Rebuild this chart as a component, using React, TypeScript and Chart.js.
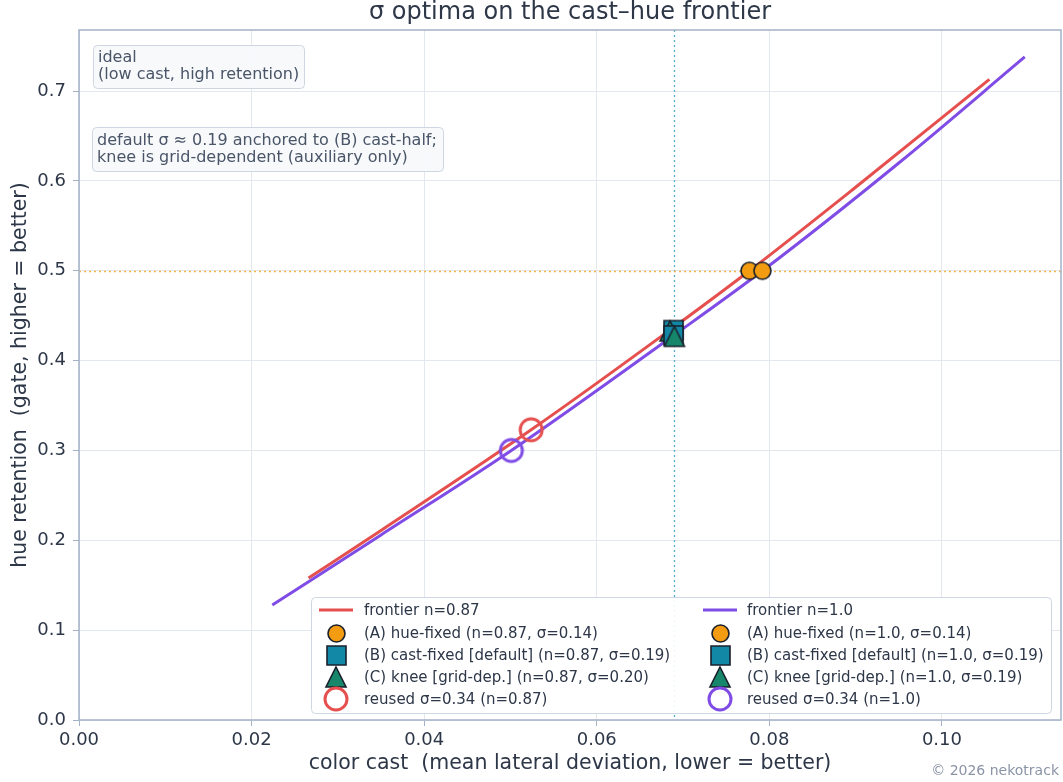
import React, { useEffect, useRef } from 'react';
import { Chart, registerables } from 'chart.js';

Chart.register(...registerables);

// ---------- data ----------
const RED_X = [0.0266, 0.035, 0.0524, 0.0689, 0.0777, 0.09, 0.1055];
const RED_Y = [0.158, 0.211, 0.323, 0.437, 0.5, 0.593, 0.713];
const PURPLE_X = [0.0224, 0.035, 0.0501, 0.0689, 0.0792, 0.095, 0.1096];
const PURPLE_Y = [0.128, 0.206, 0.3, 0.428, 0.5, 0.62, 0.738];

// marker order: (A) hue-fixed, (B) cast-fixed, (C) knee, reused
const MARK_X_087 = [0.0777, 0.0689, 0.0685, 0.0524];
const MARK_Y_087 = [0.5, 0.434, 0.433, 0.323];
const MARK_X_100 = [0.0792, 0.0689, 0.069, 0.0501];
const MARK_Y_100 = [0.5, 0.428, 0.427, 0.3];

const CAST_REF = 0.0689;
const GATE_REF = 0.5;

const X_TICKS = [0, 0.02, 0.04, 0.06, 0.08, 0.1];
const Y_TICKS = [0, 0.1, 0.2, 0.3, 0.4, 0.5, 0.6, 0.7];

const LABELS_087 = [
  'frontier n=0.87',
  '(A) hue-fixed (n=0.87, σ=0.14)',
  '(B) cast-fixed [default] (n=0.87, σ=0.19)',
  '(C) knee [grid-dep.] (n=0.87, σ=0.20)',
  'reused σ=0.34 (n=0.87)',
];
const LABELS_100 = [
  'frontier n=1.0',
  '(A) hue-fixed (n=1.0, σ=0.14)',
  '(B) cast-fixed [default] (n=1.0, σ=0.19)',
  '(C) knee [grid-dep.] (n=1.0, σ=0.19)',
  'reused σ=0.34 (n=1.0)',
];

const TITLE = 'σ optima on the cast–hue frontier';
const X_TITLE = 'color cast  (mean lateral deviation, lower = better)';
const Y_TITLE = 'hue retention  (gate, higher = better)';
const NOTE_1 = ['ideal', '(low cast, high retention)'];
const NOTE_2 = ['default σ ≈ 0.19 anchored to (B) cast-half;', 'knee is grid-dependent (auxiliary only)'];
const CREDIT = '© 2026 nekotrack';

// ---------- styles ----------
const FONT = "'DejaVu Sans', sans-serif";
const RED = '#e5504f';
const PURPLE = '#7f4ce6';
const ORANGE = '#f39c12';
const TEAL = '#1288a6';
const GREEN = '#16876a';
const EDGE = '#1a202c';
const TEXT = '#2d3748';
const NOTE_TEXT = '#4a5568';
const FRAME = '#a3b1c6';
const GRID = '#e3e8ef';

function makeMarker(shape: string, fill: string | null, stroke: string, lw: number, size: number): HTMLCanvasElement {
  const pad = Math.ceil(lw) + 2;
  const dim = Math.ceil(size + pad * 2);
  const c = document.createElement('canvas');
  c.width = dim;
  c.height = dim;
  const g = c.getContext('2d')!;
  const cx = dim / 2;
  const cy = dim / 2;
  const h = size / 2;
  g.beginPath();
  if (shape === 'circle') g.arc(cx, cy, h, 0, Math.PI * 2);
  else if (shape === 'square') g.rect(cx - h, cy - h, size, size);
  else {
    g.moveTo(cx, cy - h);
    g.lineTo(cx + h, cy + h);
    g.lineTo(cx - h, cy + h);
    g.closePath();
  }
  if (fill) {
    g.fillStyle = fill;
    g.fill();
  }
  g.lineWidth = lw;
  g.strokeStyle = stroke;
  g.lineJoin = 'miter';
  g.stroke();
  return c;
}

export default function App() {
  const ref = useRef<HTMLCanvasElement | null>(null);

  useEffect(() => {
    const canvas = ref.current;
    if (!canvas) return;

    const mA = makeMarker('circle', ORANGE, EDGE, 1.6, 17);
    const mB = makeMarker('square', TEAL, EDGE, 1.6, 19);
    const mC = makeMarker('triangle', GREEN, EDGE, 1.6, 20);
    const mR87 = makeMarker('circle', null, RED, 3, 22);
    const mR100 = makeMarker('circle', null, PURPLE, 3, 22);
    const shapes = [mA, mB, mC];

    const line = (xs: number[], ys: number[], color: string) => ({
      type: 'scatter' as const,
      data: xs.map((x, i) => ({ x, y: ys[i] })),
      showLine: true,
      borderColor: color,
      backgroundColor: color,
      borderWidth: 3,
      pointRadius: 0,
      cubicInterpolationMode: 'monotone' as const,
    });
    const marker = (x: number, y: number, img: HTMLCanvasElement) => ({
      type: 'scatter' as const,
      data: [{ x, y }],
      pointStyle: img,
      pointRadius: 10,
      pointHoverRadius: 10,
    });

    const list: any[] = [
      line(RED_X, RED_Y, RED),
      line(PURPLE_X, PURPLE_Y, PURPLE),
      marker(MARK_X_087[0], MARK_Y_087[0], mA),
      marker(MARK_X_087[1], MARK_Y_087[1], mB),
      marker(MARK_X_087[2], MARK_Y_087[2], mC),
      marker(MARK_X_087[3], MARK_Y_087[3], mR87),
      marker(MARK_X_100[0], MARK_Y_100[0], mA),
      marker(MARK_X_100[1], MARK_Y_100[1], mB),
      marker(MARK_X_100[2], MARK_Y_100[2], mC),
      marker(MARK_X_100[3], MARK_Y_100[3], mR100),
    ];
    // first in list drawn first (bottom)
    list.forEach((d, i) => (d.order = -i));

    const refLines = {
      id: 'refLines',
      beforeDatasetsDraw(chart: any) {
        const { ctx, chartArea: a, scales } = chart;
        ctx.save();
        ctx.lineWidth = 1.3;
        ctx.setLineDash([2, 3]);
        const px = Math.round(scales.x.getPixelForValue(CAST_REF)) + 0.5;
        ctx.strokeStyle = '#52b1c9';
        ctx.beginPath();
        ctx.moveTo(px, a.top);
        ctx.lineTo(px, a.bottom);
        ctx.stroke();
        const py = Math.round(scales.y.getPixelForValue(GATE_REF)) + 0.5;
        ctx.strokeStyle = '#f3b44a';
        ctx.beginPath();
        ctx.moveTo(a.left, py);
        ctx.lineTo(a.right, py);
        ctx.stroke();
        ctx.restore();
      },
    };

    const box = (ctx: CanvasRenderingContext2D, x: number, y: number, w: number, h: number, r: number, fill: string, stroke: string) => {
      ctx.beginPath();
      ctx.moveTo(x + r, y);
      ctx.lineTo(x + w - r, y);
      ctx.arcTo(x + w, y, x + w, y + r, r);
      ctx.lineTo(x + w, y + h - r);
      ctx.arcTo(x + w, y + h, x + w - r, y + h, r);
      ctx.lineTo(x + r, y + h);
      ctx.arcTo(x, y + h, x, y + h - r, r);
      ctx.lineTo(x, y + r);
      ctx.arcTo(x, y, x + r, y, r);
      ctx.closePath();
      ctx.fillStyle = fill;
      ctx.fill();
      ctx.lineWidth = 1;
      ctx.strokeStyle = stroke;
      ctx.stroke();
    };

    const overlay = {
      id: 'overlay',
      afterDraw(chart: any) {
        const { ctx, chartArea: a } = chart;
        ctx.save();
        // frame
        ctx.strokeStyle = FRAME;
        ctx.lineWidth = 1.5;
        ctx.strokeRect(a.left, a.top, a.right - a.left, a.bottom - a.top);

        // title
        ctx.fillStyle = TEXT;
        ctx.font = `24px ${FONT}`;
        ctx.textAlign = 'center';
        ctx.textBaseline = 'middle';
        ctx.fillText(TITLE, (a.left + a.right) / 2, 13);

        // notes
        ctx.font = `16px ${FONT}`;
        ctx.textAlign = 'left';
        box(ctx, 93.5, 45.5, 211, 43, 4, 'rgba(247,249,251,0.95)', '#cdd6e1');
        box(ctx, 92.5, 127.5, 351, 44, 4, 'rgba(247,249,251,0.95)', '#cdd6e1');
        ctx.fillStyle = NOTE_TEXT;
        NOTE_1.forEach((t, i) => ctx.fillText(t, 98, 58 + i * 17));
        NOTE_2.forEach((t, i) => ctx.fillText(t, 97, 141 + i * 17));

        // legend
        box(ctx, 311.5, 597.5, 740, 116, 4, 'rgba(255,255,255,0.92)', '#cdd6e1');
        const rows = [610, 633, 655, 677, 699];
        const cols = [
          { mx: 336, tx: 364, labels: LABELS_087, color: RED, reuse: mR87 },
          { mx: 720, tx: 747, labels: LABELS_100, color: PURPLE, reuse: mR100 },
        ];
        ctx.font = `15px ${FONT}`;
        cols.forEach((c) => {
          rows.forEach((ry, i) => {
            if (i === 0) {
              ctx.strokeStyle = c.color;
              ctx.lineWidth = 3;
              ctx.setLineDash([]);
              ctx.beginPath();
              ctx.moveTo(c.mx - 17, ry);
              ctx.lineTo(c.mx + 17, ry);
              ctx.stroke();
            } else {
              const img = i === 4 ? c.reuse : shapes[i - 1];
              ctx.drawImage(img, Math.round(c.mx - img.width / 2), Math.round(ry - img.height / 2));
            }
            ctx.fillStyle = TEXT;
            ctx.fillText(c.labels[i], c.tx, ry + 1);
          });
        });

        // credit
        ctx.font = `14px ${FONT}`;
        ctx.fillStyle = '#8a94a6';
        ctx.textAlign = 'right';
        ctx.fillText(CREDIT, 1059, 771);
        ctx.restore();
      },
    };

    const chart = new Chart(canvas, {
      type: 'scatter',
      data: { datasets: list },
      options: {
        animation: false,
        responsive: false,
        devicePixelRatio: 1,
        layout: { autoPadding: false, padding: { top: 30, right: 2, left: 0, bottom: 0 } },
        plugins: {
          legend: { display: false },
          tooltip: { enabled: false },
          title: { display: false },
        },
        scales: {
          x: {
            type: 'linear',
            min: 0,
            max: 0.1138,
            afterFit: (s: any) => {
              s.height = 62;
            },
            afterBuildTicks: (s: any) => {
              s.ticks = X_TICKS.map((v) => ({ value: v }));
            },
            grid: { color: GRID, lineWidth: 1, tickLength: 6, tickColor: FRAME, drawTicks: true },
            border: { display: false },
            ticks: {
              color: TEXT,
              font: { family: FONT, size: 18 },
              padding: 4,
              callback: (v: any) => Number(v).toFixed(2),
            },
            title: {
              display: true,
              text: X_TITLE,
              color: TEXT,
              font: { family: FONT, size: 20.5 },
              padding: { top: 0, bottom: 6 },
            },
          },
          y: {
            type: 'linear',
            min: 0,
            max: 0.768,
            afterFit: (s: any) => {
              s.width = 79;
            },
            afterBuildTicks: (s: any) => {
              s.ticks = Y_TICKS.map((v) => ({ value: v }));
            },
            grid: { color: GRID, lineWidth: 1, tickLength: 6, tickColor: FRAME, drawTicks: true },
            border: { display: false },
            ticks: {
              color: TEXT,
              font: { family: FONT, size: 18 },
              padding: 7,
              callback: (v: any) => Number(v).toFixed(1),
            },
            title: {
              display: true,
              text: Y_TITLE,
              color: TEXT,
              font: { family: FONT, size: 20.5 },
              padding: { top: 8, bottom: 0 },
            },
          },
        },
      },
      plugins: [refLines, overlay],
    });

    return () => chart.destroy();
  }, []);

  return (
    <div style={{ position: 'fixed', left: 0, top: 0, width: 1063, height: 782, background: '#fff' }}>
      <canvas ref={ref} width={1063} height={782} style={{ width: 1063, height: 782, display: 'block' }} />
    </div>
  );
}
